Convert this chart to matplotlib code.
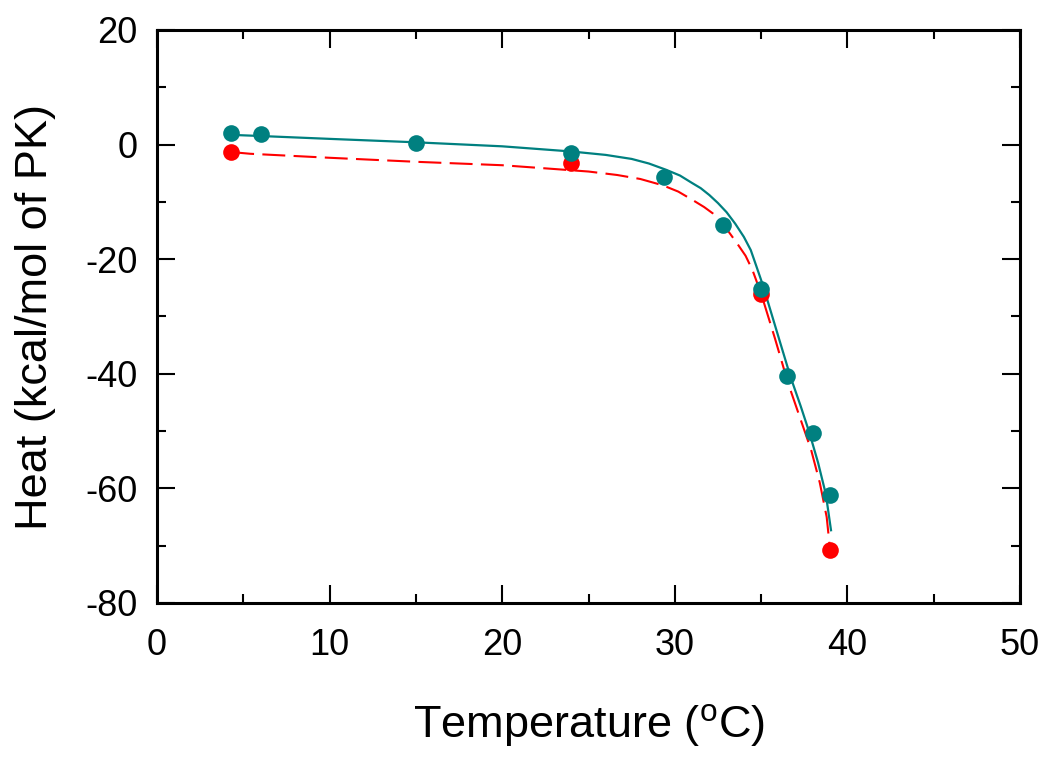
import matplotlib
matplotlib.use("Agg")
import matplotlib.pyplot as plt
from matplotlib.ticker import MultipleLocator

plt.rcParams['font.family'] = ['Liberation Sans', 'DejaVu Sans']
plt.rcParams['axes.unicode_minus'] = False

# measured points
teal_T = [4.3, 6.0, 15.0, 24.0, 29.4, 32.8, 35.0, 36.5, 38.0, 39.0]
teal_H = [2.0, 1.8, 0.2, -1.5, -5.7, -14.0, -25.2, -40.3, -50.3, -61.2]
red_T = [4.3, 24.0, 35.0, 39.0]
red_H = [-1.3, -3.2, -26.0, -70.8]

# fitted curves
teal_fit_T = [4.3, 6, 10, 15, 20, 24, 26, 27.5, 28.5, 29.5, 30.3, 31, 31.5, 32, 32.5, 33, 33.5,
              34, 34.4, 34.7, 35.1, 35.5, 36.1, 36.7, 37.3, 37.8, 38.3, 38.75, 39.05]
teal_fit_H = [1.7, 1.5, 1.0, 0.4, -0.3, -1.2, -1.8, -2.5, -3.3, -4.4, -5.4, -6.7, -7.6, -8.8, -10.2,
              -11.8, -13.8, -16.1, -18.4, -21.0, -24.5, -28.5, -34.5, -40.5, -45.7, -50.3, -55.5, -61.0, -67.3]
red_fit_T = [4.3, 5.4, 10, 15, 20, 23.2, 25, 26.65, 28, 29.3, 30.2, 31.05, 31.7, 32.2, 32.9, 33.6,
             34.1, 34.5, 35.0, 35.8, 36.56, 37.2, 37.9, 38.4, 38.8, 39.0]
red_fit_H = [-1.3, -1.6, -2.3, -3.0, -3.6, -4.3, -4.7, -5.3, -6.0, -7.1, -8.2, -9.7, -10.9, -12.0, -14.3,
             -17.2, -19.4, -21.9, -26.0, -33.8, -41.6, -47.2, -53.3, -59.0, -65.0, -70.8]

TEAL = '#008080'
RED = '#ff0000'

fig = plt.figure(figsize=(10.5, 7.61), dpi=100)
ax = fig.add_axes([157/1050, 1-603/761, (1020-157)/1050, (603-30)/761])

ax.plot(red_fit_T, red_fit_H, color=RED, lw=1.5, dashes=(11, 4), zorder=2)
ax.plot(teal_fit_T, teal_fit_H, color=TEAL, lw=1.6, zorder=2)
ax.plot(red_T, red_H, 'o', color=RED, ms=12, mec='none', zorder=3)
ax.plot(teal_T, teal_H, 'o', color=TEAL, ms=12, mec='none', zorder=4)

ax.set_xlim(0, 50)
ax.set_ylim(-80, 20)
ax.xaxis.set_major_locator(MultipleLocator(10))
ax.xaxis.set_minor_locator(MultipleLocator(5))
ax.yaxis.set_major_locator(MultipleLocator(20))
ax.yaxis.set_minor_locator(MultipleLocator(10))
for s in ax.spines.values():
    s.set_linewidth(2.2)
ax.tick_params(which='both', direction='in', top=True, right=True, width=1.5)
ax.tick_params(which='major', length=13)
ax.tick_params(which='minor', length=6.5)
ax.tick_params(axis='x', which='major', labelsize=26, pad=18)
ax.tick_params(axis='y', which='major', labelsize=26, pad=14)

ax.set_xlabel('Temperature ($^\\mathregular{o}$C)', fontsize=32.5, labelpad=28)
ax.set_ylabel('Heat (kcal/mol of PK)', fontsize=32.5, labelpad=21)

fig.savefig('out.png', dpi=100)
